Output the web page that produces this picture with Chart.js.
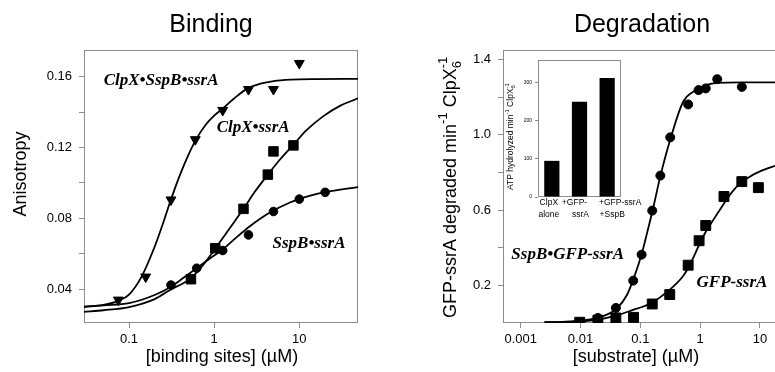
<!DOCTYPE html>
<html>
<head>
<meta charset="utf-8">
<script src="https://cdn.jsdelivr.net/npm/chart.js@4/dist/chart.umd.min.js"></script>
<style>
html, body { margin: 0; padding: 0; background: #fff; overflow: hidden; }
#wrap { position: relative; width: 775px; height: 372px; overflow: hidden; }
canvas { position: absolute; }
#binding { left: 0; top: 0; }
#degradation { left: 390px; top: 0; }
#atp { left: 500px; top: 54px; }
</style>
</head>
<body>
<div id="wrap">
  <canvas id="binding" width="390" height="372"></canvas>
  <canvas id="degradation" width="400" height="372"></canvas>
  <canvas id="atp" width="150" height="170"></canvas>
</div>
<script>
// ---------- Binding panel (anisotropy vs [binding sites], uM) ----------
const bindTicksX = [0.1, 1, 10];
const bindTicksY = [0.04, 0.06, 0.08, 0.10, 0.12, 0.14, 0.16];
const bindLabelsY = [0.04, 0.08, 0.12, 0.16];

// ClpX•SspB•ssrA (triangles)
const ternaryConc = [0.075, 0.157, 0.311, 0.60, 1.26, 2.53, 4.97, 10];
const ternaryAniso = [0.034, 0.047, 0.0905, 0.1245, 0.141, 0.1528, 0.1528, 0.1675];
const ternaryFitConc = [0.0296, 0.05, 0.075, 0.1, 0.14, 0.2, 0.25, 0.31, 0.4, 0.5, 0.62, 0.8, 1.0, 1.26, 1.7, 2.5, 3.5, 5, 8, 15, 48.9];
const ternaryFitAniso = [0.0300, 0.0312, 0.0335, 0.0370, 0.0470, 0.0640, 0.0770, 0.0905, 0.1050, 0.1160, 0.1250, 0.1330, 0.1380, 0.1420, 0.1475, 0.1535, 0.1560, 0.1575, 0.1583, 0.1586, 0.1587];

// ClpX•ssrA (squares)
const clpxConc = [0.534, 1.03, 2.21, 4.27, 4.97, 8.53];
const clpxAniso = [0.0457, 0.0632, 0.0854, 0.1047, 0.1178, 0.1212];
const clpxFitConc = [0.0296, 0.05, 0.1, 0.2, 0.3, 0.53, 0.75, 1.03, 1.5, 2.21, 3, 4.27, 6, 8.53, 12, 19.2, 30, 48.9];
const clpxFitAniso = [0.0273, 0.0282, 0.0300, 0.0345, 0.0395, 0.0462, 0.0540, 0.0630, 0.0740, 0.0854, 0.0950, 0.1047, 0.1135, 0.1216, 0.1295, 0.1377, 0.1435, 0.1477];

// SspB•ssrA (circles)
const sspbConc = [0.311, 0.624, 1.26, 2.53, 4.97, 10, 20.1];
const sspbAniso = [0.0424, 0.0519, 0.0619, 0.0707, 0.0839, 0.0909, 0.0947];
const sspbFitConc = [0.0296, 0.05, 0.1, 0.2, 0.311, 0.45, 0.624, 0.9, 1.26, 1.8, 2.53, 3.5, 4.97, 7, 10, 20.1, 48.9];
const sspbFitAniso = [0.0302, 0.0310, 0.0322, 0.0368, 0.0415, 0.0470, 0.0519, 0.0575, 0.0625, 0.0690, 0.0750, 0.0800, 0.0845, 0.0880, 0.0910, 0.0948, 0.0977];

// ---------- Degradation panel (rate vs [substrate], uM) ----------
const degTicksX = [0.001, 0.01, 0.1, 1, 10];
const degTicksY = [0.2, 0.4, 0.6, 0.8, 1.0, 1.2, 1.4];
const degLabelsY = [0.2, 0.6, 1.0, 1.4];

// SspB•GFP-ssrA (circles)
const complexConc = [0.0097, 0.0195, 0.039, 0.076, 0.105, 0.158, 0.216, 0.316, 0.63, 0.94, 1.24, 1.93, 4.97];
const complexRate = [0.004, 0.027, 0.08, 0.225, 0.363, 0.597, 0.783, 0.986, 1.161, 1.237, 1.246, 1.295, 1.254];
const complexFitConc = [0.0025, 0.005, 0.01, 0.02, 0.03, 0.04, 0.06, 0.08, 0.105, 0.13, 0.161, 0.216, 0.32, 0.52, 0.85, 1.3, 1.9, 5, 20];
const complexFitRate = [0.004, 0.006, 0.012, 0.030, 0.050, 0.075, 0.150, 0.250, 0.365, 0.480, 0.600, 0.780, 0.980, 1.175, 1.237, 1.265, 1.275, 1.278, 1.278];

// GFP-ssrA (squares)
const gfpConc = [0.0097, 0.0195, 0.039, 0.077, 0.158, 0.31, 0.63, 0.96, 1.24, 2.5, 4.97, 9.4];
const gfpRate = [0.004, 0.015, 0.027, 0.030, 0.101, 0.151, 0.307, 0.437, 0.518, 0.672, 0.751, 0.719];
const gfpFitConc = [0.0025, 0.01, 0.02, 0.04, 0.07, 0.15, 0.28, 0.52, 0.65, 0.98, 1.24, 1.8, 2.44, 3.3, 4.6, 7, 10, 20];
const gfpFitRate = [0.004, 0.008, 0.018, 0.040, 0.066, 0.105, 0.165, 0.250, 0.300, 0.420, 0.485, 0.565, 0.630, 0.690, 0.740, 0.780, 0.805, 0.840];

// ---------- ATP hydrolysis inset ----------
const atpLabels = [['ClpX', 'alone'], ['+GFP-', 'ssrA'], ['+GFP-ssrA', '+SspB']];
const atpRates = [95, 250, 313];
const atpTicks = [0, 100, 200, 300];

// ---------- shared bits ----------
const SANS = "'Liberation Sans', Arial, Helvetica, sans-serif";
const SERIF = "'Liberation Serif', 'Times New Roman', serif";
const FRAME = '#8c8c8c';
const pts = (xs, ys) => xs.map((x, i) => ({ x: x, y: ys[i] }));
const isLabel = (list, v) => list.some(l => Math.abs(l - v) < 1e-9);

function marks(data, style, radius, rotation) {
    return {
        data: data,
        showLine: false,
        pointStyle: style,
        pointRadius: radius,
        pointRotation: rotation || 0,
        pointBackgroundColor: '#000',
        pointBorderColor: '#000',
        pointBorderWidth: 1
    };
}

function fit(data) {
    return {
        data: data,
        showLine: true,
        pointRadius: 0,
        borderColor: '#000',
        borderWidth: 1.8,
        cubicInterpolationMode: 'monotone',
        fill: false
    };
}

function tickAxis(extra) {
    return Object.assign({
        border: { display: false },
        grid: { drawOnChartArea: false, drawTicks: true, tickLength: 5, color: FRAME },
        ticks: { color: '#000', font: { family: SANS, size: 13 }, autoSkip: false, maxRotation: 0 }
    }, extra);
}

// draw a run of text pieces (sub/superscripts) along one baseline, optionally rotated
function richText(ctx, parts, x, y, rot) {
    ctx.save();
    ctx.translate(x, y);
    if (rot) ctx.rotate(rot);
    ctx.textAlign = 'left';
    ctx.textBaseline = 'alphabetic';
    ctx.fillStyle = '#000';
    let cx = 0;
    parts.forEach(p => {
        ctx.font = p.font;
        ctx.fillText(p.text, cx, p.dy || 0);
        if (!p.stack) cx += ctx.measureText(p.text).width;
    });
    ctx.restore();
}

function centerText(ctx, text, x, y, font, baseline) {
    ctx.save();
    ctx.font = font;
    ctx.fillStyle = '#000';
    ctx.textAlign = 'center';
    ctx.textBaseline = baseline || 'alphabetic';
    ctx.fillText(text, x, y);
    ctx.restore();
}

function panelPlugin(drawText) {
    return {
        id: 'panelFrame',
        beforeDatasetsDraw(chart) {
            const { ctx, chartArea: a } = chart;
            ctx.save();
            ctx.strokeStyle = FRAME;
            ctx.lineWidth = 1;
            ctx.strokeRect(Math.round(a.left) + 0.5, Math.round(a.top) + 0.5,
                Math.round(a.right - a.left) - 1, Math.round(a.bottom - a.top) - 1);
            ctx.restore();
        },
        afterDraw(chart) {
            drawText(chart, chart.ctx);
        }
    };
}

const noteFont = 'bold italic 17px ' + SERIF;
const bindingNotes = [
    { text: 'ClpX•SspB•ssrA', x: 0.238, y: 0.1578 },
    { text: 'ClpX•ssrA', x: 2.87, y: 0.1313 },
    { text: 'SspB•ssrA', x: 13.0, y: 0.0656 }
];
const degradationNotes = [
    { text: 'SspB•GFP-ssrA', x: 0.0061, y: 0.363 },
    { text: 'GFP-ssrA', x: 3.4, y: 0.214 }
];
// nudges (px) of the two lines of each inset category label, as set in the figure
const atpLabelNudge = [[-3, -3], [-5, 1], [13, 5]];

function drawNotes(chart, ctx, notes) {
    const sx = chart.scales.x, sy = chart.scales.y;
    notes.forEach(n => {
        centerText(ctx, n.text, sx.getPixelForValue(n.x), sy.getPixelForValue(n.y), noteFont, 'middle');
    });
}

const baseOptions = {
    responsive: false,
    animation: false,
    events: [],
    plugins: { legend: { display: false }, tooltip: { enabled: false } }
};

// ---------- Binding chart ----------
new Chart(document.getElementById('binding'), {
    type: 'scatter',
    data: {
        datasets: [
            marks(pts(ternaryConc, ternaryAniso), 'triangle', 5.7, 180),
            marks(pts(clpxConc, clpxAniso), 'rect', 6.7),
            marks(pts(sspbConc, sspbAniso), 'circle', 4.3),
            fit(pts(ternaryFitConc, ternaryFitAniso)),
            fit(pts(clpxFitConc, clpxFitAniso)),
            fit(pts(sspbFitConc, sspbFitAniso))
        ]
    },
    options: Object.assign({}, baseOptions, {
        layout: { padding: { top: 50, right: 32, left: 0, bottom: 0 } },
        scales: {
            x: tickAxis({
                type: 'logarithmic', min: 0.0296, max: 48.9,
                afterBuildTicks: s => { s.ticks = bindTicksX.map(v => ({ value: v })); },
                afterFit: s => { s.height = 49; },
                ticks: { color: '#000', font: { family: SANS, size: 13 }, autoSkip: false, maxRotation: 0, padding: 4,
                    callback: v => String(v) }
            }),
            y: tickAxis({
                type: 'linear', min: 0.021, max: 0.175,
                afterBuildTicks: s => { s.ticks = bindTicksY.map(v => ({ value: v })); },
                afterFit: s => { s.width = 84; },
                ticks: { color: '#000', font: { family: SANS, size: 13 }, autoSkip: false, padding: 7,
                    callback: v => isLabel(bindLabelsY, v) ? v.toFixed(2) : '' }
            })
        }
    }),
    plugins: [panelPlugin((chart, ctx) => {
        centerText(ctx, 'Binding', 211, 32, '25px ' + SANS);
        centerText(ctx, '[binding sites] (\u00b5M)', 222, 362, '18px ' + SANS);
        ctx.save();
        ctx.translate(26, 174);
        ctx.rotate(-Math.PI / 2);
        centerText(ctx, 'Anisotropy', 0, 0, '18px ' + SANS);
        ctx.restore();
        drawNotes(chart, ctx, bindingNotes);
    })]
});

// ---------- Degradation chart ----------
new Chart(document.getElementById('degradation'), {
    type: 'scatter',
    data: {
        datasets: [
            marks(pts(gfpConc, gfpRate), 'rect', 7),
            marks(pts(complexConc, complexRate), 'circle', 4.5),
            fit(pts(complexFitConc, complexFitRate)),
            fit(pts(gfpFitConc, gfpFitRate))
        ]
    },
    options: Object.assign({}, baseOptions, {
        layout: { padding: { top: 50, right: 12, left: 0, bottom: 0 } },
        scales: {
            x: tickAxis({
                type: 'logarithmic', min: 0.000506, max: 20,
                afterBuildTicks: s => { s.ticks = degTicksX.map(v => ({ value: v })); },
                afterFit: s => { s.height = 49; },
                ticks: { color: '#000', font: { family: SANS, size: 13 }, autoSkip: false, maxRotation: 0, padding: 4,
                    callback: v => String(v) }
            }),
            y: tickAxis({
                type: 'linear', min: 0, max: 1.45,
                afterBuildTicks: s => { s.ticks = degTicksY.map(v => ({ value: v })); },
                afterFit: s => { s.width = 113; },
                ticks: { color: '#000', font: { family: SANS, size: 13 }, autoSkip: false, padding: 7,
                    callback: v => isLabel(degLabelsY, v) ? v.toFixed(1) : '' }
            })
        }
    }),
    plugins: [panelPlugin((chart, ctx) => {
        centerText(ctx, 'Degradation', 252, 32, '25px ' + SANS);
        centerText(ctx, '[substrate] (\u00b5M)', 246, 362, '18px ' + SANS);
        const big = '18px ' + SANS, small = '13px ' + SANS;
        richText(ctx, [
            { text: 'GFP-ssrA degraded min', font: big },
            { text: '-1', font: small, dy: -9 },
            { text: ' ClpX', font: big },
            { text: '6', font: small, dy: 5, stack: true },
            { text: '-1', font: small, dy: -9 }
        ], 66, 318, -Math.PI / 2);
        drawNotes(chart, ctx, degradationNotes);
    })]
});

// ---------- ATP inset ----------
new Chart(document.getElementById('atp'), {
    type: 'bar',
    data: {
        labels: atpLabels,
        datasets: [{
            data: atpRates,
            backgroundColor: '#000',
            borderWidth: 0,
            barPercentage: 0.55,
            categoryPercentage: 1
        }]
    },
    options: Object.assign({}, baseOptions, {
        layout: { padding: { top: 6, right: 29, left: 0, bottom: 0 } },
        scales: {
            x: {
                border: { display: false },
                grid: { display: false, drawTicks: false },
                afterFit: s => { s.height = 27; },
                ticks: { display: false }
            },
            y: {
                min: 0, max: 360,
                border: { display: false },
                grid: { drawOnChartArea: false, drawTicks: true, tickLength: 3, color: FRAME },
                afterBuildTicks: s => { s.ticks = atpTicks.map(v => ({ value: v })); },
                afterFit: s => { s.width = 38; },
                ticks: { color: '#000', font: { family: SANS, size: 5 }, padding: 3, autoSkip: false }
            }
        }
    }),
    plugins: [panelPlugin((chart, ctx) => {
        const sx = chart.scales.x;
        const bottom = chart.chartArea.bottom;
        atpLabels.forEach((lines, i) => {
            const cx = sx.getPixelForValue(i);
            lines.forEach((line, j) => {
                centerText(ctx, line, cx + atpLabelNudge[i][j], bottom + 6 + j * 12, '8.5px ' + SANS, 'middle');
            });
        });
        const f = '8.5px ' + SANS, s = '6px ' + SANS;
        richText(ctx, [
            { text: 'ATP hydrolyzed min', font: f },
            { text: '-1', font: s, dy: -4 },
            { text: ' ClpX', font: f },
            { text: '6', font: s, dy: 2, stack: true },
            { text: '-1', font: s, dy: -4 }
        ], 13, 136, -Math.PI / 2);
    })]
});
</script>
</body>
</html>
